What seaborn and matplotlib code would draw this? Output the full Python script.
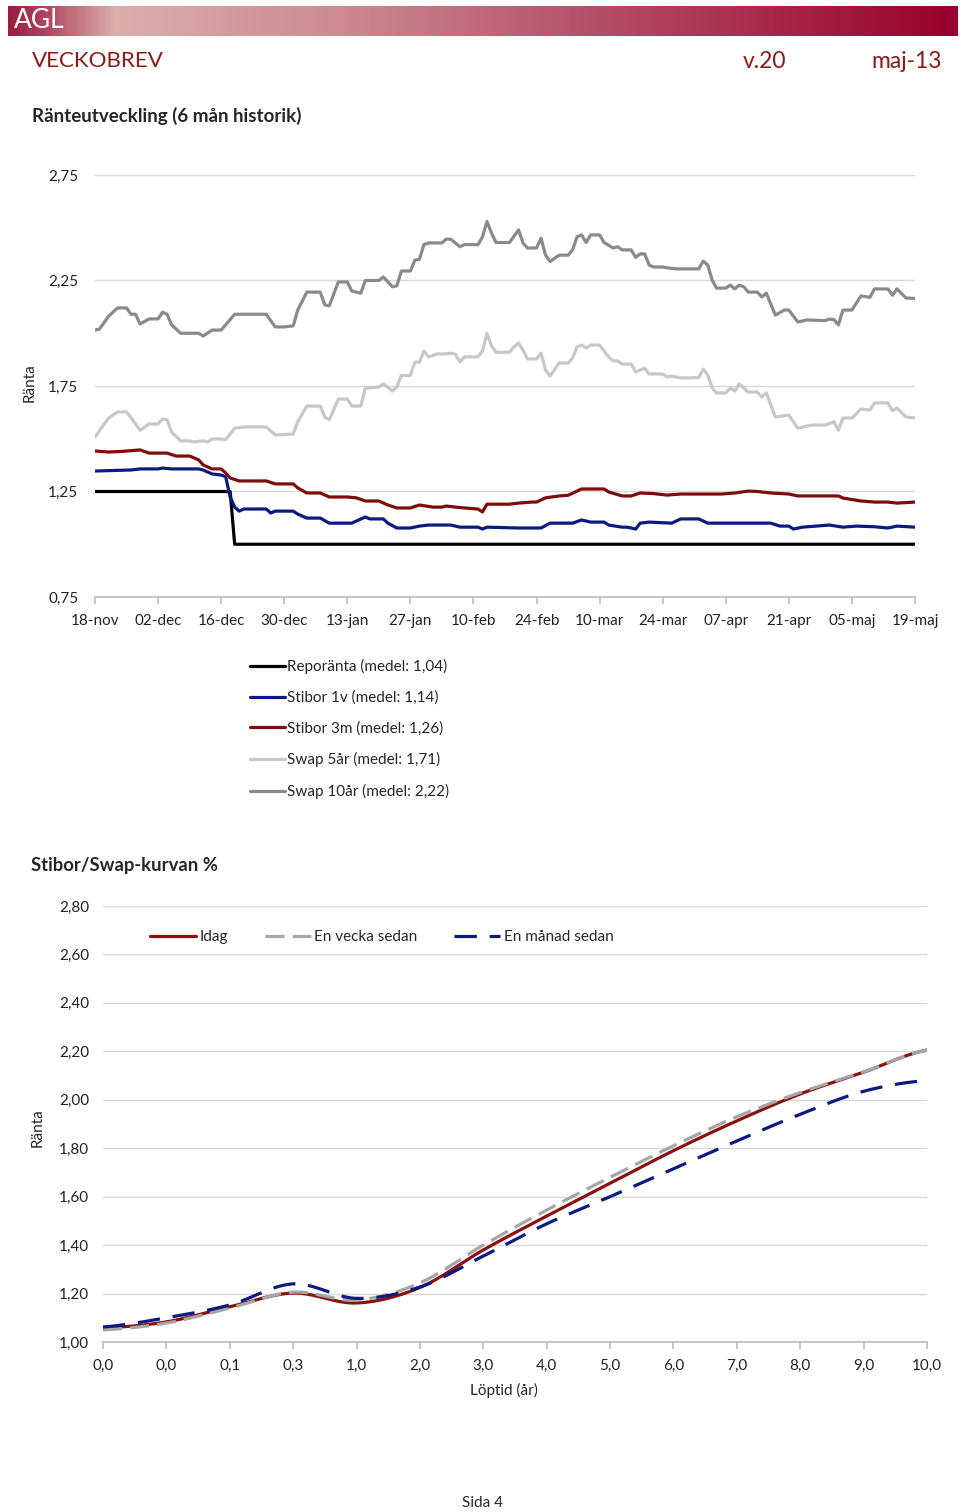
import numpy as np
import pandas as pd
import matplotlib
matplotlib.use("Agg")
import matplotlib.pyplot as plt
from matplotlib.colors import LinearSegmentedColormap
import seaborn as sns

sns.set_theme(style="white")
plt.rcParams['font.family'] = ['Lato', 'DejaVu Sans']

# ---- Ränteutveckling: dagar efter 18-nov-2012 och ränta (%)
start = pd.Timestamp('2012-11-18')

repo_day = [0, 30, 31, 182]
repo_val = [1.25, 1.25, 1.00, 1.00]

stibor1v_day = [0, 8, 10, 14, 15, 17, 23, 24, 26, 28, 29, 30, 31, 32, 33, 38, 39, 40, 44, 45,
                47, 50, 52, 57, 58, 60, 61, 64, 65, 67, 70, 72, 74, 79, 81, 85, 86, 87, 94, 99,
                101, 106, 108, 110, 113, 114, 117, 118, 119, 120, 121, 123, 128, 130, 134, 136,
                144, 150, 152, 154, 155, 157, 163, 166, 169, 173, 176, 178, 182]
stibor1v_val = [1.347, 1.352, 1.357, 1.357, 1.361, 1.357, 1.357, 1.352, 1.333, 1.328, 1.32, 1.224,
                1.176, 1.157, 1.167, 1.167, 1.148, 1.157, 1.157, 1.143, 1.124, 1.124, 1.10, 1.10,
                1.11, 1.129, 1.12, 1.12, 1.10, 1.077, 1.077, 1.086, 1.091, 1.091, 1.081, 1.081,
                1.072, 1.081, 1.077, 1.077, 1.10, 1.10, 1.115, 1.105, 1.105, 1.091, 1.081, 1.081,
                1.077, 1.072, 1.10, 1.105, 1.10, 1.12, 1.12, 1.10, 1.10, 1.10, 1.086, 1.086, 1.072,
                1.081, 1.091, 1.081, 1.086, 1.083, 1.077, 1.086, 1.081]

stibor3m_day = [0, 3, 6, 10, 12, 15, 16, 18, 21, 23, 24, 26, 28, 29, 30, 32, 38, 40, 44, 45, 47,
                50, 52, 56, 58, 60, 63, 65, 67, 70, 72, 75, 77, 78, 80, 82, 85, 86, 87, 92, 94, 97,
                98, 100, 103, 105, 108, 113, 114, 117, 119, 121, 124, 127, 130, 136, 139, 142, 145,
                147, 150, 154, 156, 165, 166, 170, 173, 176, 178, 182]
stibor3m_val = [1.442, 1.437, 1.44, 1.447, 1.432, 1.432, 1.432, 1.418, 1.418, 1.40, 1.376, 1.357,
                1.357, 1.338, 1.314, 1.30, 1.30, 1.286, 1.286, 1.267, 1.243, 1.243, 1.224, 1.224,
                1.22, 1.205, 1.205, 1.186, 1.172, 1.172, 1.186, 1.176, 1.176, 1.181, 1.176, 1.172,
                1.167, 1.153, 1.19, 1.19, 1.195, 1.20, 1.20, 1.22, 1.229, 1.232, 1.262, 1.262,
                1.248, 1.229, 1.229, 1.243, 1.24, 1.233, 1.238, 1.238, 1.238, 1.243, 1.252, 1.25,
                1.243, 1.238, 1.229, 1.229, 1.219, 1.205, 1.20, 1.20, 1.195, 1.20]

swap5_day = [0, 3, 5, 7, 8, 10, 12, 14, 15, 16, 17, 19, 21, 22, 24, 25, 26, 28, 29, 31, 33, 38,
             40, 44, 45, 47, 50, 51, 52, 54, 56, 57, 59, 60, 63, 64, 66, 67, 68, 70, 71, 72, 73,
             74, 76, 78, 79, 80, 81, 82, 85, 86, 87, 88, 89, 92, 93, 94, 95, 96, 98, 99, 100,
             101, 103, 105, 106, 107, 108, 109, 110, 112, 113, 114, 115, 116, 117, 119, 120, 122,
             123, 126, 127, 128, 130, 134, 135, 136, 137, 138, 140, 141, 142, 143, 145, 147, 148,
             149, 151, 154, 156, 159, 162, 164, 165, 166, 168, 170, 172, 173, 176, 177, 178, 180,
             182]
swap5_val = [1.508, 1.598, 1.627, 1.627, 1.60, 1.54, 1.57, 1.57, 1.594, 1.59, 1.532, 1.49, 1.49,
             1.485, 1.49, 1.485, 1.499, 1.499, 1.495, 1.55, 1.556, 1.556, 1.518, 1.522, 1.58,
             1.655, 1.655, 1.603, 1.59, 1.688, 1.688, 1.655, 1.655, 1.74, 1.745, 1.76, 1.726,
             1.745, 1.80, 1.80, 1.864, 1.862, 1.916, 1.888, 1.902, 1.902, 1.906, 1.90, 1.864,
             1.888, 1.888, 1.916, 2.00, 1.94, 1.91, 1.91, 1.935, 1.954, 1.92, 1.878, 1.878, 1.906,
             1.826, 1.797, 1.859, 1.859, 1.883, 1.935, 1.944, 1.93, 1.944, 1.944, 1.916, 1.888,
             1.869, 1.869, 1.854, 1.854, 1.816, 1.835, 1.807, 1.807, 1.793, 1.797, 1.788, 1.79,
             1.83, 1.802, 1.74, 1.717, 1.717, 1.74, 1.726, 1.76, 1.721, 1.721, 1.698, 1.717,
             1.603, 1.612, 1.55, 1.565, 1.565, 1.58, 1.54, 1.598, 1.598, 1.641, 1.636, 1.67,
             1.67, 1.632, 1.646, 1.603, 1.598]

swap10_day = [0, 1, 3, 5, 7, 8, 9, 10, 12, 14, 15, 16, 17, 19, 23, 24, 26, 28, 31, 38, 40, 42,
              44, 45, 47, 50, 51, 52, 54, 56, 57, 59, 60, 63, 64, 66, 67, 68, 70, 71, 72, 73, 74,
              77, 78, 79, 81, 82, 85, 86, 87, 88, 89, 92, 94, 95, 96, 98, 99, 100, 101, 103, 105,
              106, 107, 108, 109, 110, 112, 113, 115, 116, 117, 119, 120, 121, 122, 123, 124,
              126, 127, 129, 134, 135, 136, 137, 138, 140, 141, 142, 143, 144, 145, 147, 148, 149,
              151, 153, 154, 156, 158, 162, 163, 164, 165, 166, 168, 170, 172, 173, 176, 177, 178,
              180, 182]
swap10_val = [2.015, 2.02, 2.08, 2.12, 2.12, 2.09, 2.09, 2.044, 2.068, 2.068, 2.10, 2.09, 2.04,
              2.00, 2.00, 1.987, 2.015, 2.015, 2.09, 2.09, 2.03, 2.03, 2.035, 2.11, 2.195, 2.195,
              2.134, 2.13, 2.243, 2.243, 2.20, 2.19, 2.25, 2.25, 2.267, 2.22, 2.225, 2.295, 2.295,
              2.347, 2.35, 2.42, 2.428, 2.428, 2.447, 2.445, 2.41, 2.42, 2.42, 2.456, 2.53, 2.475,
              2.43, 2.43, 2.49, 2.428, 2.404, 2.404, 2.45, 2.37, 2.34, 2.37, 2.37, 2.395, 2.457,
              2.466, 2.43, 2.466, 2.466, 2.43, 2.404, 2.41, 2.395, 2.395, 2.36, 2.376, 2.376,
              2.323, 2.314, 2.314, 2.31, 2.305, 2.305, 2.342, 2.323, 2.25, 2.214, 2.214, 2.228,
              2.21, 2.228, 2.22, 2.195, 2.195, 2.172, 2.19, 2.086, 2.11, 2.11, 2.053, 2.063, 2.06,
              2.067, 2.065, 2.04, 2.11, 2.11, 2.177, 2.17, 2.21, 2.21, 2.18, 2.21, 2.167, 2.165]

series_names = ['Reporänta (medel: 1,04)', 'Stibor 1v (medel: 1,14)', 'Stibor 3m (medel: 1,26)',
                'Swap 5år (medel: 1,71)', 'Swap 10år (medel: 2,22)']
series_colors = ['#000000', '#0b1a80', '#7d0c0c', '#c8c8c8', '#8a8a8a']
series_days = [repo_day, stibor1v_day, stibor3m_day, swap5_day, swap10_day]
series_vals = [repo_val, stibor1v_val, stibor3m_val, swap5_val, swap10_val]

date_labels = ['18-nov', '02-dec', '16-dec', '30-dec', '13-jan', '27-jan', '10-feb', '24-feb',
               '10-mar', '24-mar', '07-apr', '21-apr', '05-maj', '19-maj']
top_yticks = [0.75, 1.25, 1.75, 2.25, 2.75]

# ---- Stibor/Swap-kurvan
lop_labels = ['0,0', '0,0', '0,1', '0,3', '1,0', '2,0', '3,0', '4,0', '5,0', '6,0', '7,0', '8,0',
              '9,0', '10,0']
idag = [1.058, 1.083, 1.145, 1.202, 1.161, 1.225, 1.38, 1.52, 1.655, 1.79, 1.913, 2.024, 2.114, 2.205]
vecka = [1.05, 1.078, 1.14, 1.206, 1.173, 1.244, 1.40, 1.545, 1.68, 1.81, 1.93, 2.03, 2.115, 2.205]
manad = [1.062, 1.10, 1.153, 1.24, 1.18, 1.227, 1.355, 1.488, 1.60, 1.715, 1.83, 1.94, 2.035, 2.08]
bottom_yticks = [1.0, 1.2, 1.4, 1.6, 1.8, 2.0, 2.2, 2.4, 2.6, 2.8]

W, H = 960, 1512


def fx(px):
    return px / W


def fy(py):
    return 1 - py / H


def comma(v, nd=2):
    return f"{v:.{nd}f}".replace('.', ',')


def smooth(y, n=24):
    # Catmull-Rom-kurva genom punkterna (som Excels utjämnade linje)
    y = np.asarray(y, float)
    p = np.r_[y[0], y, y[-1]]
    xs, ys = [], []
    t = np.linspace(0, 1, n, endpoint=False)
    for i in range(len(y) - 1):
        p0, p1, p2, p3 = p[i], p[i + 1], p[i + 2], p[i + 3]
        ys.append(0.5 * (2 * p1 + (-p0 + p2) * t + (2 * p0 - 5 * p1 + 4 * p2 - p3) * t ** 2
                         + (-p0 + 3 * p1 - 3 * p2 + p3) * t ** 3))
        xs.append(i + t)
    xs.append([len(y) - 1])
    ys.append([y[-1]])
    return np.concatenate(xs), np.concatenate(ys)


def style_axis(ax):
    ax.grid(axis='y', color='#d9d9d9', linewidth=1)
    ax.set_axisbelow(True)
    for s in ['left', 'right', 'top']:
        ax.spines[s].set_visible(False)
    ax.spines['bottom'].set_color('#bfbfbf')
    ax.tick_params(axis='x', bottom=True, length=5, color='#bfbfbf', pad=7, labelcolor='#222222')
    ax.tick_params(axis='y', left=False, pad=4, labelcolor='#222222')
    ax.set_xlabel('')
    ax.set_ylabel('')


fig = plt.figure(figsize=(W / 100, H / 100), dpi=100)

# header band
hax = fig.add_axes([fx(8), fy(36), fx(950), 30 / H])
cmap = LinearSegmentedColormap.from_list('agl', [(0, '#9c1f42'), (0.04, '#b04a62'),
                                                 (0.11, '#dcaeac'), (0.35, '#cc8a92'),
                                                 (0.65, '#b24863'), (1, '#98002e')])
hax.imshow(np.linspace(0, 1, 400)[None, :], aspect='auto', cmap=cmap, extent=[0, 1, 0, 1])
hax.set_axis_off()
fig.text(fx(14), fy(21), 'AGL', color='white', fontsize=19, va='center')

red_txt = '#8b1a1a'
fig.text(fx(32), fy(61), 'VECKOBREV', color=red_txt, fontsize=16.1, va='center')
fig.text(fx(786), fy(61), 'v.20', color=red_txt, fontsize=16.5, va='center', ha='right')
fig.text(fx(942), fy(61), 'maj-13', color=red_txt, fontsize=16.5, va='center', ha='right')
fig.text(fx(32), fy(116), 'Ränteutveckling (6 mån historik)', fontsize=13.5, fontweight='bold',
         va='center')

# ---- top chart
ax1 = fig.add_axes([fx(95), fy(597), fx(820), (597 - 175) / H])
for name, col, d, v in zip(series_names, series_colors, series_days, series_vals):
    dates = start + pd.to_timedelta(d, unit='D')
    sns.lineplot(x=dates, y=v, color=col, linewidth=2.3, label=name, ax=ax1)

tick_dates = pd.date_range(start, periods=len(date_labels), freq='14D')
ax1.set_xlim(tick_dates[0], tick_dates[-1])
ax1.set_ylim(0.75, 2.75)
ax1.set_xticks(tick_dates)
ax1.set_xticklabels(date_labels, fontsize=11)
ax1.set_yticks(top_yticks)
ax1.set_yticklabels([comma(v) for v in top_yticks], fontsize=11)
style_axis(ax1)
ax1.tick_params(axis='y', pad=6)
fig.text(fx(30), fy(383), 'Ränta', rotation=90, fontsize=11, va='center', ha='center')

handles, labels = ax1.get_legend_handles_labels()
ax1.get_legend().remove()
fig.legend(handles, labels, loc='upper left', bbox_to_anchor=(fx(250), fy(659)), frameon=False,
           fontsize=11, handlelength=2.3, handletextpad=0.15, labelspacing=1.08, borderpad=0,
           borderaxespad=0)

# ---- bottom chart
fig.text(fx(31), fy(866), 'Stibor/Swap-kurvan %', fontsize=13.3, fontweight='bold', va='center')
ax2 = fig.add_axes([fx(103), fy(1342), fx(824), (1342 - 906) / H])
xs, ys = smooth(idag)
sns.lineplot(x=xs, y=ys, color='#8b1010', linewidth=2.3, label='Idag', ax=ax2, sort=False)
xs, ys = smooth(vecka)
sns.lineplot(x=xs, y=ys, color='#a6a6a6', linewidth=2.3, label='En vecka sedan', ax=ax2,
             sort=False, dashes=False, linestyle=(0, (6, 2.5)))
xs, ys = smooth(manad)
sns.lineplot(x=xs, y=ys, color='#0b1a80', linewidth=2.3, label='En månad sedan', ax=ax2,
             sort=False, dashes=False, linestyle=(0, (7, 4)))
ax2.set_xlim(0, len(lop_labels) - 1)
ax2.set_ylim(1.0, 2.8)
ax2.set_xticks(range(len(lop_labels)))
ax2.set_xticklabels(lop_labels, fontsize=11)
ax2.set_yticks(bottom_yticks)
ax2.set_yticklabels([comma(v) for v in bottom_yticks], fontsize=11)
style_axis(ax2)
ax2.tick_params(axis='y', pad=4)
ax2.legend(loc='upper left', bbox_to_anchor=((150 - 103) / 824, (1342 - 930) / 436),
           ncol=3, frameon=False, fontsize=11, handlelength=3.0, handletextpad=0.25,
           columnspacing=2.4, borderpad=0, borderaxespad=0)
fig.text(fx(38), fy(1128), 'Ränta', rotation=90, fontsize=11, va='center', ha='center')
fig.text(fx(504), fy(1390), 'Löptid (år)', fontsize=11, va='center', ha='center')

fig.text(fx(482), fy(1503), 'Sida 4', fontsize=11, va='center', ha='center')

fig.savefig('out.png', dpi=100)
